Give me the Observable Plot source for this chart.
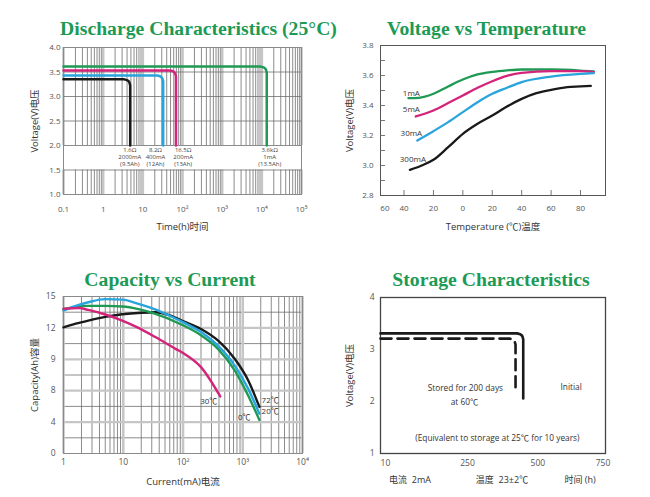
<!DOCTYPE html>
<html>
<head>
<meta charset="utf-8">
<script src="https://cdn.jsdelivr.net/npm/d3@7"></script>
<script src="https://cdn.jsdelivr.net/npm/@observablehq/plot@0.6"></script>
<style>
  html, body { margin: 0; padding: 0; background: #fff; }
  #wrap { position: relative; width: 650px; height: 497px; overflow: hidden; background: #fff;
          font-family: "Open Sans", "Noto Sans CJK SC", sans-serif; }
  .title { position: absolute; white-space: nowrap; transform: translateX(-50%);
           font-family: "Liberation Serif", "Times New Roman", serif; font-weight: bold;
           font-size: 19.7px; line-height: 20px; color: #1d9a55; }
  .panel { position: absolute; }
  .note { position: absolute; white-space: pre; transform: translateX(-50%);
          font-size: 9px; line-height: 10px; color: #333; }
</style>
</head>
<body>
<div id="wrap"></div>
<script>
// ================= DATA =================
const chartTitles = ["Discharge Characteristics (25°C)", "Voltage vs Temperature", "Capacity vs Current", "Storage Characteristics"];

// ---- Panel 1: discharge characteristics ----
const timeTicks = [0.1, 1, 10, 100, 1000, 10000, 100000];
const timeTickLabels = ["0.1", "1", "10", "10²", "10³", "10⁴", "10⁵"];
const dischargeVoltTicks = [1.0, 1.5, 2.0, 2.5, 3.0, 3.5, 4.0];
const dischargeGridV = [1.5, 2.0, 2.5, 3.0, 3.5];
const dischargeColors = ["#1a1a1a", "#2aa4dc", "#d4237a", "#1f9a55"];
const t2000 = [0.1, 3.39, 4.03, 4.34, 4.58, 4.8, 4.8];
const v2000 = [3.35, 3.35, 3.334, 3.314, 3.289, 3.228, 2.0];
const t400 = [0.1, 23.0, 27.4, 29.4, 31.1, 32.6, 32.6];
const v400 = [3.43, 3.43, 3.414, 3.394, 3.369, 3.308, 2.0];
const t200 = [0.1, 48.4, 57.6, 61.9, 65.4, 68.5, 68.5];
const v200 = [3.53, 3.53, 3.514, 3.494, 3.469, 3.408, 2.0];
const t1 = [0.1, 9390, 11180, 12010, 12700, 13300, 13300];
const v1 = [3.61, 3.61, 3.594, 3.574, 3.549, 3.488, 2.0];
const dischargeLabels = ["1.6Ω\n2000mA\n(9.5Ah)", "8.2Ω\n400mA\n(12Ah)", "16.5Ω\n200mA\n(13Ah)", "3.6kΩ\n1mA\n(13.5Ah)"];
const dischargeLabelT = [4.7, 20.8, 104, 15800];
const dischargeLabelV = [1.77, 1.77, 1.77, 1.77];

// ---- Panel 2: voltage vs temperature ----
const tempLabelTicks = [-53, -40, -20, 0, 20, 40, 60, 80];
const tempTickLabels = ["60", "40", "20", "0", "20", "40", "60", "80"];
const tempTickMarks = [-40, -20, 0, 20, 40, 60, 80];
const tempVoltTicks = [2.8, 3.0, 3.2, 3.4, 3.6, 3.8];
const tempVoltMinor = [2.9, 3.0, 3.1, 3.2, 3.3, 3.4, 3.5, 3.6, 3.7];
const temp1mA = [-37, -30, -20, -10, 0, 10, 20, 30, 40, 60, 80, 89];
const volt1mA = [3.449, 3.451, 3.478, 3.527, 3.573, 3.607, 3.624, 3.634, 3.64, 3.64, 3.633, 3.627];
const temp5mA = [-32, -20, -10, 0, 10, 20, 30, 40, 60, 80, 89];
const volt5mA = [3.327, 3.367, 3.416, 3.467, 3.518, 3.562, 3.598, 3.618, 3.629, 3.629, 3.622];
const temp30mA = [-31, -20, -10, 0, 10, 20, 30, 40, 60, 80, 89];
const volt30mA = [3.167, 3.229, 3.289, 3.356, 3.422, 3.478, 3.518, 3.556, 3.593, 3.611, 3.616];
const temp300mA = [-36, -28, -20, -10, 0, 10, 20, 30, 40, 50, 60, 71, 80, 87];
const volt300mA = [2.971, 3.0, 3.038, 3.122, 3.211, 3.278, 3.333, 3.393, 3.444, 3.482, 3.504, 3.522, 3.527, 3.531];
const tempColors = ["#1f9a55", "#d4237a", "#2aa4dc", "#1a1a1a"];
const tempLabels = ["1mA", "5mA", "30mA", "300mA"];
const tempLabelT = [-35, -35, -35, -34];
const tempLabelV = [3.482, 3.371, 3.211, 3.04];

// ---- Panel 3: capacity vs current ----
const currentTicks = [1, 10, 100, 1000, 10000];
const currentTickLabels = ["1", "10", "10²", "10³", "10⁴"];
const capTicks = [0, 3, 6, 9, 12, 15];
const capTickLabels = ["0", "4", "8", "9", "12", "15"];
const capGridMajor = [3, 6, 9, 12];
const capGridMinor = [1.5, 4.5, 7.5, 10.5, 13.5];
const i72 = [1, 1.6, 2.6, 5, 9.6, 20, 35, 60, 100, 200, 384, 733, 1230, 1900];
const cap72 = [12.05, 12.4, 12.7, 13.05, 13.3, 13.45, 13.5, 13.2, 12.65, 11.9, 10.8, 9.05, 7.0, 4.45];
const i20 = [1, 1.6, 2.6, 5, 9.6, 18, 35, 75, 100, 200, 384, 733, 1230, 1900];
const cap20 = [13.65, 14.1, 14.45, 14.75, 14.7, 14.3, 13.75, 12.9, 12.55, 11.6, 10.3, 8.4, 6.2, 3.8];
const i0 = [1, 1.6, 2.6, 5, 9.6, 18, 30, 100, 200, 384, 733, 1230, 1900];
const cap0 = [13.8, 14.0, 14.1, 14.1, 14.05, 13.8, 13.45, 12.25, 11.3, 10.0, 7.95, 5.55, 3.2];
const iM30 = [1, 1.8, 2.6, 5, 9.6, 18, 35, 75, 100, 200, 420];
const capM30 = [13.82, 13.9, 13.72, 13.28, 12.7, 12.0, 11.1, 10.0, 9.6, 8.25, 5.45];
const capColors = ["#1a1a1a", "#2aa4dc", "#1f9a55", "#d4237a"];
const capLabels = ["72℃", "20℃", "0℃", "30℃"];
const capLabelI = [2880, 2880, 1062, 270];
const capLabelV = [5.06, 4.04, 3.41, 4.97];

// ---- Panel 4: storage characteristics ----
const storageTimeTicks = [10, 250, 500, 750];
const storageVoltTicks = [1, 2, 3, 4];
const hoursInitial = [1, 424, 435, 439.6, 443.1, 446, 446];
const voltInitial = [3.31, 3.31, 3.295, 3.276, 3.252, 3.195, 2.06];
const hoursStored = [1, 396, 407, 411.6, 415.1, 418, 418];
const voltStored = [3.21, 3.21, 3.195, 3.176, 3.152, 3.095, 2.21];
const storageNotes = ["Stored for 200 days", "at 60℃", "Initial", "(Equivalent to storage at 25℃ for 10 years)"];
const storageNoteH = [243, 240, 626, 353];
const storageNoteV = [2.25, 1.98, 2.27, 1.29];
const storageFooter = ["电流  2mA", "温度  23±2℃", "时间 (h)"];

// ================= RENDER =================
const wrap = document.getElementById("wrap");
const font = '"Open Sans","Noto Sans CJK SC",sans-serif';
const tickFill = "#555";
const labelFill = "#333";

function logLines(lo, hi) {
  const dec = [], minor = [];
  for (let e = Math.round(Math.log10(lo)); Math.pow(10, e) <= hi * 1.0001; e++) {
    const d = Math.pow(10, e);
    dec.push(d);
    for (let k = 2; k <= 9; k++) if (d * k <= hi * 1.0001) minor.push(d * k);
  }
  return {dec, minor};
}
function place(el, left, top) {
  el.classList.add("panel");
  el.style.left = left + "px";
  el.style.top = top + "px";
  wrap.appendChild(el);
}
function addTitle(text, cx, top) {
  const d = document.createElement("div");
  d.className = "title";
  d.textContent = text;
  d.style.left = cx + "px";
  d.style.top = top + "px";
  wrap.appendChild(d);
}
const lookup = (keys, vals) => { const m = new Map(keys.map((k, i) => [k, vals[i]])); return d => m.get(d); };
const xTitle = (s, dy) => Plot.text([s], {frameAnchor: "bottom", textAnchor: "middle", lineAnchor: "middle", dy, fontSize: 9.5, fill: labelFill});
const yTitle = (s, dx) => Plot.text([s], {frameAnchor: "left", textAnchor: "middle", lineAnchor: "middle", rotate: -90, dx, fontSize: 9.5, fill: labelFill});

// ---- Panel 1 ----
const g1 = logLines(0.1, 1e5);
const p1 = Plot.plot({
  width: 325, height: 200,
  marginTop: 7, marginRight: 24, marginBottom: 46, marginLeft: 63,
  style: {fontFamily: font, background: "transparent", overflow: "visible"},
  x: {type: "log", domain: [0.1, 1e5]},
  y: {domain: [1, 4]},
  marks: [
    Plot.ruleX(g1.minor, {y1: 2, y2: 4, stroke: "#6e6e6e", strokeWidth: 0.8}),
    Plot.ruleX(g1.minor, {y1: 1, y2: 1.5, stroke: "#6e6e6e", strokeWidth: 0.8}),
    Plot.ruleX(g1.dec, {y1: 2, y2: 4, stroke: "#c6c6c6", strokeWidth: 2.6}),
    Plot.ruleX(g1.dec, {y1: 1, y2: 1.5, stroke: "#c6c6c6", strokeWidth: 2.6}),
    Plot.ruleY(dischargeGridV, {stroke: "#6e6e6e", strokeWidth: 0.8}),
    Plot.frame({stroke: "#8a8a8a", strokeWidth: 1}),
    Plot.line(t1, {x: t1, y: v1, stroke: dischargeColors[3], strokeWidth: 2.5}),
    Plot.line(t200, {x: t200, y: v200, stroke: dischargeColors[2], strokeWidth: 2.5}),
    Plot.line(t400, {x: t400, y: v400, stroke: dischargeColors[1], strokeWidth: 2.5}),
    Plot.line(t2000, {x: t2000, y: v2000, stroke: dischargeColors[0], strokeWidth: 2.5}),
    Plot.text(dischargeLabels, {x: dischargeLabelT, y: dischargeLabelV, fontSize: 6, lineHeight: 1.2, fill: "#444"}),
    Plot.axisX({ticks: timeTicks, tickFormat: lookup(timeTicks, timeTickLabels), tickSize: 0, tickPadding: 12, fontSize: 8, fill: tickFill, label: null}),
    Plot.axisY({ticks: dischargeVoltTicks, tickFormat: d3.format(".1f"), tickSize: 0, tickPadding: 3, fontSize: 8, fill: tickFill, label: null}),
    xTitle("Time(h)时间", 32),
    yTitle("Voltage(V)电压", -28.5)
  ]
});
place(p1, 0, 40);

// ---- Panel 2 ----
const p2 = Plot.plot({
  width: 320, height: 200,
  marginTop: 5, marginRight: 45, marginBottom: 45, marginLeft: 50,
  style: {fontFamily: font, background: "transparent", overflow: "visible"},
  x: {domain: [-56, 97]},
  y: {domain: [2.8, 3.8]},
  marks: [
    Plot.frame({stroke: "#555", strokeWidth: 1}),
    Plot.tickY(tempVoltMinor, {y: d => d, stroke: "#666", strokeWidth: 0.9, insetRight: 220}),
    Plot.tickX(tempTickMarks, {x: d => d, stroke: "#666", strokeWidth: 0.9, insetTop: 145}),
    Plot.line(temp1mA, {x: temp1mA, y: volt1mA, curve: "monotone-x", stroke: tempColors[0], strokeWidth: 2.3}),
    Plot.line(temp5mA, {x: temp5mA, y: volt5mA, curve: "monotone-x", stroke: tempColors[1], strokeWidth: 2.3}),
    Plot.line(temp30mA, {x: temp30mA, y: volt30mA, curve: "monotone-x", stroke: tempColors[2], strokeWidth: 2.3}),
    Plot.line(temp300mA, {x: temp300mA, y: volt300mA, curve: "monotone-x", stroke: tempColors[3], strokeWidth: 2.3}),
    Plot.text(tempLabels, {x: tempLabelT, y: tempLabelV, fontSize: 8, fill: labelFill}),
    Plot.axisX({ticks: tempLabelTicks, tickFormat: lookup(tempLabelTicks, tempTickLabels), tickSize: 0, tickPadding: 10, fontSize: 8, fill: tickFill, label: null}),
    Plot.axisY({ticks: tempVoltTicks, tickFormat: d3.format(".1f"), tickSize: 0, tickPadding: 7, fontSize: 8, fill: tickFill, label: null}),
    xTitle("Temperature (℃)温度", 31),
    yTitle("Voltage(V)电压", -30.3)
  ]
});
place(p2, 330, 40);

// ---- Panel 3 ----
const g3 = logLines(1, 1e4);
const p3 = Plot.plot({
  width: 325, height: 200,
  marginTop: 6, marginRight: 23, marginBottom: 37, marginLeft: 63,
  style: {fontFamily: font, background: "transparent", overflow: "visible"},
  x: {type: "log", domain: [1, 1e4]},
  y: {domain: [0, 15]},
  marks: [
    Plot.ruleX(g3.minor, {stroke: "#6e6e6e", strokeWidth: 0.8}),
    Plot.ruleY(capGridMinor, {stroke: "#6e6e6e", strokeWidth: 0.8}),
    Plot.ruleX(g3.dec, {stroke: "#c6c6c6", strokeWidth: 2.6}),
    Plot.ruleY(capGridMajor, {stroke: "#c6c6c6", strokeWidth: 2.2}),
    Plot.frame({stroke: "#8a8a8a", strokeWidth: 1}),
    Plot.line(i72, {x: i72, y: cap72, curve: "monotone-x", stroke: capColors[0], strokeWidth: 2.4}),
    Plot.line(i0, {x: i0, y: cap0, curve: "monotone-x", stroke: capColors[2], strokeWidth: 2.4}),
    Plot.line(i20, {x: i20, y: cap20, curve: "monotone-x", stroke: capColors[1], strokeWidth: 2.4}),
    Plot.line(iM30, {x: iM30, y: capM30, curve: "monotone-x", stroke: capColors[3], strokeWidth: 2.4}),
    Plot.text(capLabels, {x: capLabelI, y: capLabelV, fontSize: 8, fill: labelFill}),
    Plot.axisX({ticks: currentTicks, tickFormat: lookup(currentTicks, currentTickLabels), tickSize: 0, tickPadding: 5, fontSize: 8.5, fill: tickFill, label: null}),
    Plot.axisY({ticks: capTicks, tickFormat: lookup(capTicks, capTickLabels), tickSize: 0, tickPadding: 8, fontSize: 8.5, fill: tickFill, label: null}),
    xTitle("Current(mA)电流", 28),
    yTitle("Capacity(Ah)容量", -28.5)
  ]
});
place(p3, 0, 290);

// ---- Panel 4 ----
const p4 = Plot.plot({
  width: 320, height: 200,
  marginTop: 7, marginRight: 45, marginBottom: 37, marginLeft: 50,
  style: {fontFamily: font, background: "transparent", overflow: "visible"},
  x: {type: "pow", exponent: 0.85, domain: [1, 760]},
  y: {domain: [1, 4]},
  marks: [
    Plot.frame({stroke: "#444", strokeWidth: 1.3}),
    Plot.line(hoursInitial, {x: hoursInitial, y: voltInitial, stroke: "#1a1a1a", strokeWidth: 2.6}),
    Plot.line(hoursStored, {x: hoursStored, y: voltStored, stroke: "#1a1a1a", strokeWidth: 2.6, strokeDasharray: "11,6"}),
    Plot.text(storageNotes, {x: storageNoteH, y: storageNoteV, fontSize: 8.3, fill: labelFill}),
    Plot.axisX({ticks: storageTimeTicks, tickFormat: d => String(d), tickSize: 0, tickPadding: 6, fontSize: 8.5, fill: tickFill, label: null}),
    Plot.axisY({ticks: storageVoltTicks, tickFormat: d => String(d), tickSize: 0, tickPadding: 6, fontSize: 8.5, fill: tickFill, label: null}),
    yTitle("Voltage(V)电压", -30.5)
  ]
});
place(p4, 330, 290);

// ---- titles & footer ----
addTitle(chartTitles[0], 198.5, 18.3);
addTitle(chartTitles[1], 486.5, 18.3);
addTitle(chartTitles[2], 170, 269.3);
addTitle(chartTitles[3], 491, 269.3);
const footerX = [410, 502, 580];
storageFooter.forEach((s, i) => {
  const d = document.createElement("div");
  d.className = "note";
  d.textContent = s;
  d.style.left = footerX[i] + "px";
  d.style.top = "475px";
  wrap.appendChild(d);
});
</script>
</body>
</html>
